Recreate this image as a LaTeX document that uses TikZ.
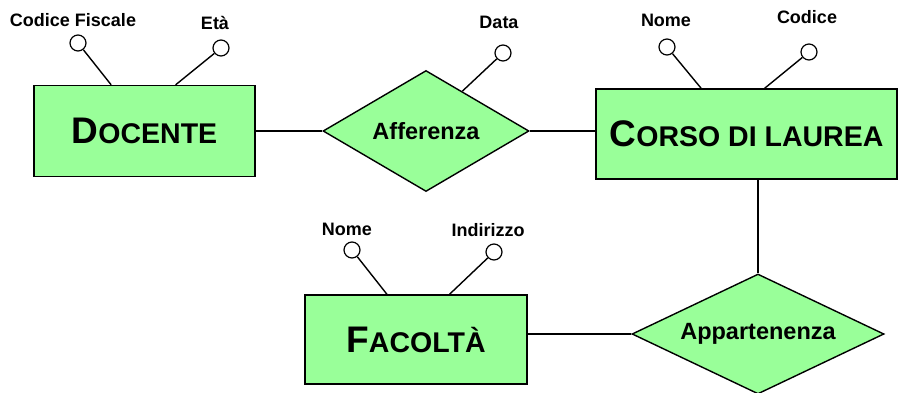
\documentclass[tikz,border=0pt]{standalone}
\usepackage{fontspec}
\setmainfont{Liberation Sans}
\usetikzlibrary{shapes.geometric,calc}
\definecolor{ergreen}{RGB}{153,255,153}
\newcommand{\ername}[2]{{\fontsize{37}{37}\selectfont #1}{\fontsize{28.5}{28.5}\selectfont #2}}
\tikzset{
  entity/.style={draw,fill=ergreen,line width=1.4pt,inner sep=0pt,font=\bfseries},
  relation/.style={diamond,draw,fill=ergreen,line width=1.4pt,inner sep=0pt,font=\bfseries\fontsize{23.5}{23.5}\selectfont},
  attrib/.style={circle,draw,fill=white,line width=1.2pt,minimum size=16pt,inner sep=0pt},
  attrlabel/.style={font=\bfseries\fontsize{18}{18}\selectfont,inner sep=0pt},
  link/.style={line width=1.4pt}
}
\begin{document}
\begin{tikzpicture}[x=1pt,y=1pt]
                \useasboundingbox (0,0) rectangle (905,392);
                % entita e relazioni
                \node [entity,minimum width=221pt,minimum height=91pt] (docente) at (144.5,261) {\ername{D}{OCENTE}};
                \node [relation,aspect=1.7,minimum width=206pt,minimum height=121pt] (afferenza) at (426,261) {Afferenza};
                \node [entity,minimum width=301pt,minimum height=90pt] (corso) at (746.5,258) {\ername{C}{ORSO DI LAUREA}};
                \node [entity,minimum width=222pt,minimum height=89pt] (facolta) at (416,52.5) {\ername{F}{ACOLTÀ}};
                \node [relation,aspect=2.1,minimum width=252pt,minimum height=120pt] (appartenenza) at (758,58) {Appartenenza};
                \draw [link] (docente.east) -- (afferenza.west);
                \draw [link] (afferenza.east) -- (afferenza.east -| corso.west);
                \draw [link] (appartenenza.north) -- (appartenenza.north |- corso.south);
                \draw [link] (appartenenza.west) -- (appartenenza.west -| facolta.east);
                % attributi
                \node [attrib] (cf) at (78,349) {};
                \node [attrib] (eta) at (221,344) {};
                \node [attrib] (data) at (503,339) {};
                \node [attrib] (nomec) at (667,345) {};
                \node [attrib] (codice) at (809,340) {};
                \node [attrib] (nomef) at (352,142) {};
                \node [attrib] (indirizzo) at (494,140) {};
                \node [attrlabel] (cflabel) at (73,372) {Codice Fiscale};
                \node [attrlabel] (etalabel) at (215,369) {Età};
                \node [attrlabel] (datalabel) at (499,370) {Data};
                \node [attrlabel] (nomeclabel) at (666,372) {Nome};
                \node [attrlabel] (codicelabel) at (807,375) {Codice};
                \node [attrlabel] (nomeflabel) at (347,163) {Nome};
                \node [attrlabel] (indirizzolabel) at (488,162) {Indirizzo};
                \draw [link] (cf) -- ($(docente.north west)!0.35!(docente.north east)$);
                \draw [link] (eta) -- ($(docente.north west)!0.64!(docente.north east)$);
                \draw [link] (data) -- ($(afferenza.north)!0.35!(afferenza.east)$);
                \draw [link] (nomec) -- ($(corso.north west)!0.35!(corso.north east)$);
                \draw [link] (codice) -- ($(corso.north west)!0.56!(corso.north east)$);
                \draw [link] (nomef) -- ($(facolta.north west)!0.37!(facolta.north east)$);
                \draw [link] (indirizzo) -- ($(facolta.north west)!0.65!(facolta.north east)$);
            \end{tikzpicture}
\end{document}
